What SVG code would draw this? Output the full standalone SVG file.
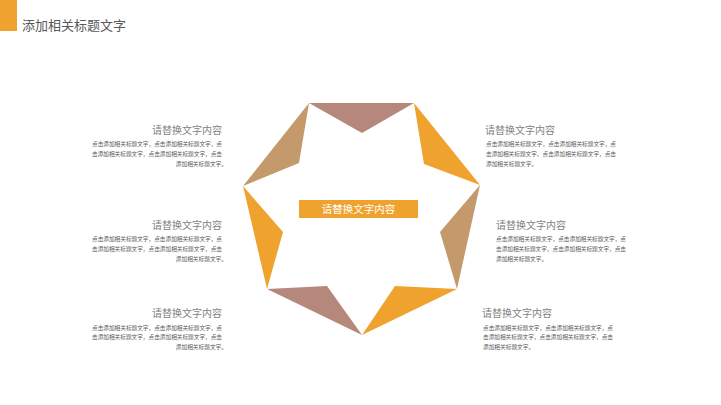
<svg xmlns="http://www.w3.org/2000/svg" width="721" height="405" viewBox="0 0 721 405">
<style>
.hd{font-family:"Noto Sans CJK SC","Liberation Sans",sans-serif;font-size:13px;fill:#595959}
.tt{font-family:"Noto Sans CJK SC","Liberation Sans",sans-serif;font-size:10px;fill:#7f7f7f}
.bd{font-family:"Noto Sans CJK SC","Liberation Sans",sans-serif;font-size:5.7px;fill:#595959}
.or{fill:#F0A22E}
.mv{fill:#B5887B}
.tn{fill:#C4996C}
.ct{font-family:"Noto Sans CJK SC","Liberation Sans",sans-serif;font-size:10.5px;fill:#ffffff}
</style>
<rect width="721" height="405" fill="#ffffff"/>
<g id="header">
<rect x="0" y="0" width="17" height="31" class="or"/>
<text x="22" y="30" class="hd">添加相关标题文字</text>
</g>
<g id="star">
<polygon class="mv" points="309,103 414,103 362,133"/>
<polygon class="or" points="414,103 480,185 424,164"/>
<polygon class="tn" points="480,185 457,289 440,232"/>
<polygon class="or" points="457,289 362,335 395,286"/>
<polygon class="mv" points="362,335 267,289 327,286"/>
<polygon class="or" points="267,289 243,186 283,232"/>
<polygon class="tn" points="243,186 309,103 299,163"/>
</g>
<g id="center">
<rect x="299" y="200" width="119" height="18" class="or"/>
<text x="358.5" y="213" text-anchor="middle" class="ct">请替换文字内容</text>
</g>
<g id="text-left-top">
<text x="222" y="133.5" text-anchor="end" class="tt">请替换文字内容</text>
<text x="92" y="146" class="bd" textLength="130" lengthAdjust="spacingAndGlyphs">点击添加相关标题文字，点击添加相关标题文字，点</text>
<text x="92" y="155.5" class="bd" textLength="130" lengthAdjust="spacingAndGlyphs">击添加相关标题文字，点击添加相关标题文字，点击</text>
<text x="227" y="165.5" text-anchor="end" class="bd">添加相关标题文字。</text>
</g>
<g id="text-left-mid">
<text x="222" y="228.5" text-anchor="end" class="tt">请替换文字内容</text>
<text x="92" y="241" class="bd" textLength="130" lengthAdjust="spacingAndGlyphs">点击添加相关标题文字，点击添加相关标题文字，点</text>
<text x="92" y="250.5" class="bd" textLength="130" lengthAdjust="spacingAndGlyphs">击添加相关标题文字，点击添加相关标题文字，点击</text>
<text x="227" y="260.5" text-anchor="end" class="bd">添加相关标题文字。</text>
</g>
<g id="text-left-bot">
<text x="222" y="317" text-anchor="end" class="tt">请替换文字内容</text>
<text x="92" y="329.5" class="bd" textLength="130" lengthAdjust="spacingAndGlyphs">点击添加相关标题文字，点击添加相关标题文字，点</text>
<text x="92" y="339" class="bd" textLength="130" lengthAdjust="spacingAndGlyphs">击添加相关标题文字，点击添加相关标题文字，点击</text>
<text x="227" y="349" text-anchor="end" class="bd">添加相关标题文字。</text>
</g>
<g id="text-right-top">
<text x="485" y="133.5" class="tt">请替换文字内容</text>
<text x="486" y="146" class="bd" textLength="130" lengthAdjust="spacingAndGlyphs">点击添加相关标题文字，点击添加相关标题文字，点</text>
<text x="486" y="155.5" class="bd" textLength="130" lengthAdjust="spacingAndGlyphs">击添加相关标题文字，点击添加相关标题文字，点击</text>
<text x="486" y="165.5" class="bd">添加相关标题文字。</text>
</g>
<g id="text-right-mid">
<text x="496" y="228.5" class="tt">请替换文字内容</text>
<text x="496" y="241" class="bd" textLength="130" lengthAdjust="spacingAndGlyphs">点击添加相关标题文字，点击添加相关标题文字，点</text>
<text x="496" y="250.5" class="bd" textLength="130" lengthAdjust="spacingAndGlyphs">击添加相关标题文字，点击添加相关标题文字，点击</text>
<text x="496" y="260.5" class="bd">添加相关标题文字。</text>
</g>
<g id="text-right-bot">
<text x="482" y="317" class="tt">请替换文字内容</text>
<text x="483" y="329.5" class="bd" textLength="130" lengthAdjust="spacingAndGlyphs">点击添加相关标题文字，点击添加相关标题文字，点</text>
<text x="483" y="339" class="bd" textLength="130" lengthAdjust="spacingAndGlyphs">击添加相关标题文字，点击添加相关标题文字，点击</text>
<text x="483" y="349" class="bd">添加相关标题文字。</text>
</g>
</svg>
